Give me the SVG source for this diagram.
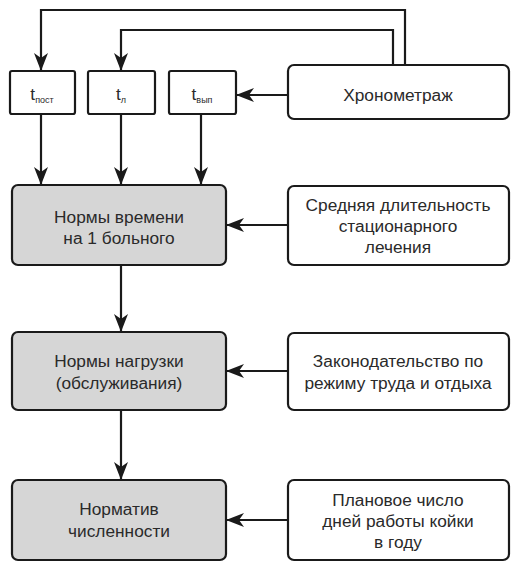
<svg xmlns="http://www.w3.org/2000/svg" width="531" height="575" viewBox="0 0 531 575">
<style>
.box{fill:#fff;stroke:#1a1a1a;stroke-width:2.2}
.gray{fill:#d6d6d6;stroke:#1a1a1a;stroke-width:2.2}
.t{font-family:"Liberation Sans",Arial,sans-serif;font-size:17.3px;fill:#2a2a2a;text-anchor:middle}
.sub{font-size:9px}
.c{fill:none;stroke:#1a1a1a;stroke-width:2.2}
</style>
<defs>
<marker id="ah" viewBox="0 0 18 14" refX="17" refY="7" markerWidth="18" markerHeight="14" markerUnits="userSpaceOnUse" orient="auto">
<path d="M0,0 L18,7 L0,14 L5,7 Z" fill="#1a1a1a"/>
</marker>
</defs>
<g id="connectors">
<path class="c" d="M405,65 V10 H41 V70" marker-end="url(#ah)"/>
<path class="c" d="M393,65 V30 H121 V70" marker-end="url(#ah)"/>
<path class="c" d="M288,95 H237" marker-end="url(#ah)"/>
<path class="c" d="M41,114 V184" marker-end="url(#ah)"/>
<path class="c" d="M121,114 V184" marker-end="url(#ah)"/>
<path class="c" d="M201,114 V184" marker-end="url(#ah)"/>
<path class="c" d="M288,225 H227" marker-end="url(#ah)"/>
<path class="c" d="M121,265 V331" marker-end="url(#ah)"/>
<path class="c" d="M288,371 H227" marker-end="url(#ah)"/>
<path class="c" d="M121,410 V479" marker-end="url(#ah)"/>
<path class="c" d="M288,520 H227" marker-end="url(#ah)"/>
</g>
<g id="t_post">
<rect class="box" x="10" y="71" width="65" height="43" rx="2"/>
<text class="t" x="42" y="100">t<tspan class="sub" dy="3">пост</tspan></text>
</g>
<g id="t_l">
<rect class="box" x="88" y="71" width="67" height="43" rx="2"/>
<text class="t" x="121" y="100">t<tspan class="sub" dy="3">л</tspan></text>
</g>
<g id="t_vyp">
<rect class="box" x="169" y="71" width="67" height="43" rx="2"/>
<text class="t" x="202" y="100">t<tspan class="sub" dy="3">вып</tspan></text>
</g>
<g id="chronometrage">
<rect class="box" x="288" y="65" width="221" height="54" rx="6"/>
<text class="t" x="398" y="101">Хронометраж</text>
</g>
<g id="time_norms">
<rect class="gray" x="12" y="185" width="214" height="80" rx="6"/>
<text class="t" x="119" y="223">Нормы времени</text>
<text class="t" x="119" y="244">на 1 больного</text>
</g>
<g id="avg_duration">
<rect class="box" x="288" y="186" width="221" height="79" rx="6"/>
<text class="t" x="398" y="211">Средняя длительность</text>
<text class="t" x="398" y="232">стационарного</text>
<text class="t" x="398" y="253">лечения</text>
</g>
<g id="load_norms">
<rect class="gray" x="12" y="332" width="214" height="78" rx="6"/>
<text class="t" x="119" y="367">Нормы нагрузки</text>
<text class="t" x="119" y="389">(обслуживания)</text>
</g>
<g id="legislation">
<rect class="box" x="288" y="333" width="221" height="77" rx="6"/>
<text class="t" x="398" y="367">Законодательство по</text>
<text class="t" x="398" y="389">режиму труда и отдыха</text>
</g>
<g id="staff_norm">
<rect class="gray" x="12" y="480" width="214" height="80" rx="6"/>
<text class="t" x="119" y="515">Норматив</text>
<text class="t" x="119" y="537">численности</text>
</g>
<g id="bed_days">
<rect class="box" x="288" y="480" width="221" height="80" rx="6"/>
<text class="t" x="398" y="506">Плановое число</text>
<text class="t" x="398" y="527">дней работы койки</text>
<text class="t" x="398" y="548">в году</text>
</g>
</svg>
